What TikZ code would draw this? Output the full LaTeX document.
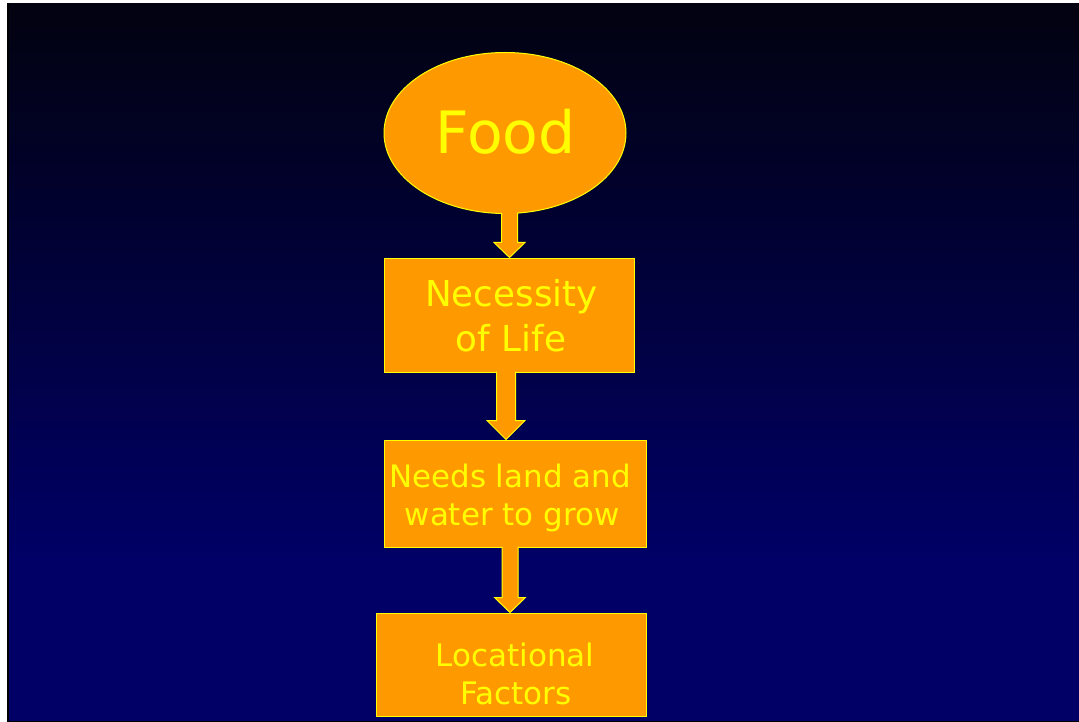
\documentclass[tikz,border=0pt]{standalone}
\usepackage{fontspec}
\setmainfont{DejaVu Sans}
\usetikzlibrary{shapes.geometric,calc}
\definecolor{orng}{HTML}{FF9900}
\definecolor{yel}{HTML}{FFFF00}
\definecolor{bgtop}{HTML}{020210}
\definecolor{bgbot}{HTML}{000066}
\tikzset{
  boxst/.style={draw=yel, fill=orng, line width=1pt, inner sep=0pt, rectangle},
  ellst/.style={draw=yel, fill=orng, line width=1pt, inner sep=0pt, ellipse},
  txt/.style={text=yel, anchor=base, inner sep=0pt},
  arrst/.style={draw=yel, fill=orng, line width=1pt, line join=miter}
}
% #1 from node, #2 to node, #3 centre x, #4 shaft half width, #5 head half width, #6 head length
\newcommand\blockarrow[6]{%
  \fill[orng] let \p1=(#1.south), \p2=(#2.north) in
    (#3pt-#4pt,\y1+2pt) -- (#3pt-#4pt,\y2+#6pt) -- (#3pt-#5pt,\y2+#6pt) -- (#3pt,\y2)
    -- (#3pt+#5pt,\y2+#6pt) -- (#3pt+#4pt,\y2+#6pt) -- (#3pt+#4pt,\y1+2pt) -- cycle;
  \draw[arrst] let \p1=(#1.south), \p2=(#2.north) in
    (#3pt-#4pt,\y1+1pt) -- (#3pt-#4pt,\y2+#6pt) -- (#3pt-#5pt,\y2+#6pt) -- (#3pt,\y2)
    -- (#3pt+#5pt,\y2+#6pt) -- (#3pt+#4pt,\y2+#6pt) -- (#3pt+#4pt,\y1+1pt);
}
\begin{document}
\begin{tikzpicture}[x=1pt,y=-1pt]
\useasboundingbox (0,0) rectangle (1079,722);
\fill[white] (0,0) rectangle (1079,722);
\shade[top color=bgtop, bottom color=bgbot] (7,4) rectangle (1079,560);
\fill[bgbot] (7,559.5) rectangle (1079,722);
\fill[black] (7,4) rectangle (9,722);
\fill[black] (7,720.5) rectangle (1079,722);

\node[ellst, minimum width=242pt, minimum height=161pt] (food) at (505,133) {};
\node[boxst, minimum width=250pt, minimum height=114pt] (nec) at (509,315) {};
\node[boxst, minimum width=262pt, minimum height=107pt] (needs) at (515,493.5) {};
\node[boxst, minimum width=270pt, minimum height=103pt] (loc) at (511,664.5) {};

\node[txt, font=\fontsize{58.4}{70}\selectfont] (tfood) at (505.5,153.3) {Food};
\node[txt, font=\fontsize{35.7}{43}\selectfont] (tnec1) at (511.5,306) {Necessity};
\node[txt, font=\fontsize{35.7}{43}\selectfont] (tnec2) at (511,351) {of Life};
\node[txt, font=\fontsize{30.9}{37}\selectfont] (tneeds1) at (510,487) {Needs land and};
\node[txt, font=\fontsize{30.9}{37}\selectfont] (tneeds2) at (512,525) {water to grow};
\node[txt, font=\fontsize{31}{37}\selectfont] (tloc1) at (515,666.7) {Locational};
\node[txt, font=\fontsize{31}{37}\selectfont] (tloc2) at (516,704) {Factors};

\blockarrow{food}{nec}{509.5}{8}{15.5}{15}
\blockarrow{nec}{needs}{506}{9.5}{19}{19}
\blockarrow{needs}{loc}{510}{8}{15.5}{15}
\end{tikzpicture}
\end{document}
